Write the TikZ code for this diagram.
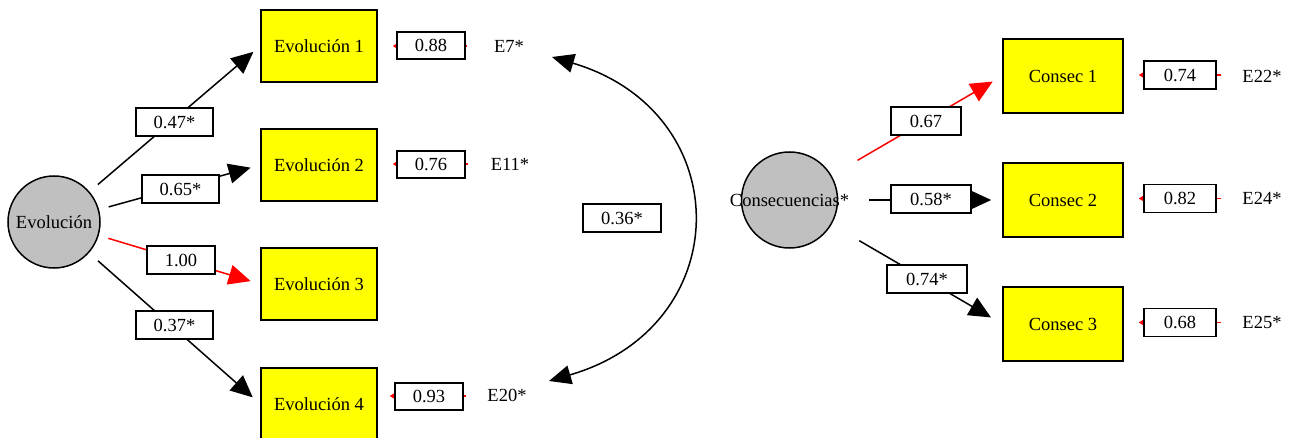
\documentclass[tikz,border=0pt]{standalone}
\usepackage{fontspec}
\setmainfont{Liberation Serif}
\usetikzlibrary{arrows.meta}
\definecolor{boxyellow}{RGB}{255,255,0}
\definecolor{latgray}{RGB}{192,192,192}
\begin{document}
\begin{tikzpicture}[x=1pt,y=-1pt,
  every node/.style={font=\fontsize{18.5}{22}\selectfont, inner sep=0pt},
  indbox/.style={draw, line width=1.5pt, fill=boxyellow, minimum width=116pt, minimum height=72pt},
  consbox/.style={draw, line width=1.5pt, fill=boxyellow, minimum width=120pt, minimum height=74pt},
  latent/.style={draw, circle, line width=1.5pt, fill=latgray},
  valbox/.style={draw, line width=1.5pt, fill=white, minimum height=27pt},
  lblbox/.style={draw, line width=1.5pt, fill=white, minimum height=28pt},
  pathblack/.style={line width=1.5pt, -{Triangle[length=22pt,width=20pt]}},
  pathred/.style={line width=1.5pt, red, -{Triangle[length=22pt,width=20pt]}},
  errarrow/.style={line width=1.5pt, red, -{Triangle[length=6pt,width=7pt]}},
  cov/.style={line width=1.5pt, {Triangle[length=22pt,width=19pt]}-{Triangle[length=22pt,width=19pt]}}
]
\useasboundingbox (0,0) rectangle (1301,438);
\clip (0,0) rectangle (1301,438);

% ---- left model ----
\node[latent, minimum size=92pt] (evo) at (54,222) {Evolución};
\node[indbox] (ev1) at (319,46) {Evolución 1};
\node[indbox] (ev2) at (319,165) {Evolución 2};
\node[indbox] (ev3) at (319,284) {Evolución 3};
\node[indbox] (ev4) at (319,404) {Evolución 4};

\node (e7) at (509,46) {E7*};
\node (e11) at (510,164) {E11*};
\node (e20) at (507,395) {E20*};

\draw[pathblack, shorten <=11pt, shorten >=9pt] (evo) -- (ev1.west);
\draw[pathblack, shorten <=10pt, shorten >=10pt] (evo) -- (ev2.west);
\draw[pathred, shorten <=10pt, shorten >=10pt] (evo) -- (ev3.west);
\draw[pathblack, shorten <=12pt, shorten >=10pt] (evo) -- (ev4.west);

\draw[errarrow, shorten <=27pt, shorten >=15pt] (e7.west) -- (ev1.east |- e7.west);
\draw[errarrow, shorten <=23pt, shorten >=15pt] (e11.west) -- (ev2.east |- e11.west);
\draw[errarrow, shorten <=21pt, shorten >=12pt] (e20.west |- 0,396) -- (ev4.east |- 0,396);

\node[valbox, minimum width=68pt] (v1) at (431,45.5) {0.88};
\node[valbox, minimum width=68pt] (v2) at (431,164.5) {0.76};
\node[valbox, minimum width=68pt] (v4) at (429,396.5) {0.93};

\node[lblbox, minimum width=77pt] (p1) at (174.5,122) {0.47*};
\node[lblbox, minimum width=77pt] (p2) at (180.5,189) {0.65*};
\node[lblbox, minimum width=68pt] (p3) at (181,260) {1.00};
\node[lblbox, minimum width=77pt] (p4) at (174.5,325) {0.37*};

% ---- covariance ----
\coordinate (covA) at (552,57);
\coordinate (covB) at (549,381);
\draw[cov] (covA) .. controls (738,112) and (738,326) .. (covB);
\node[lblbox, minimum width=78pt] (pc) at (622,218) {0.36*};

% ---- right model ----
\node[latent, minimum size=96pt, label={[inner sep=0pt, font=\fontsize{18.5}{22}\selectfont]center:Consecuencias*}] (cons) at (789.5,200) {};
\node[consbox] (c1) at (1063,76) {Consec 1};
\node[consbox] (c2) at (1063,200) {Consec 2};
\node[consbox] (c3) at (1063,324) {Consec 3};

\node (e22) at (1262,76) {E22*};
\node (e24) at (1262,198) {E24*};
\node (e25) at (1262,322) {E25*};

\draw[pathred, shorten <=30pt, shorten >=11pt] (cons) -- (c1.west);
\draw[pathblack, shorten <=31pt, shorten >=11pt] (cons) -- (c2.west);
\draw[pathblack, shorten <=32pt, shorten >=13pt] (cons) -- (c3.west);

\draw[errarrow, shorten <=21pt, shorten >=15pt] (e22.west |- 0,75) -- (c1.east |- 0,75);
\draw[errarrow, shorten <=21pt, shorten >=15pt] (e24.west |- 0,198.5) -- (c2.east |- 0,198.5);
\draw[errarrow, shorten <=21pt, shorten >=15pt] (e25.west |- 0,322.5) -- (c3.east |- 0,322.5);

\node[valbox, minimum width=72pt, minimum height=28pt] (v22) at (1180,75) {0.74};
\node[valbox, minimum width=72pt, minimum height=28pt] (v24) at (1180,198.5) {0.82};
\node[valbox, minimum width=72pt, minimum height=28pt] (v25) at (1180,322.5) {0.68};

\node[lblbox, minimum width=70pt] (q1) at (926,121) {0.67};
\node[lblbox, minimum width=80pt] (q2) at (931,199) {0.58*};
\node[lblbox, minimum width=80pt] (q3) at (927,279) {0.74*};
\end{tikzpicture}
\end{document}
